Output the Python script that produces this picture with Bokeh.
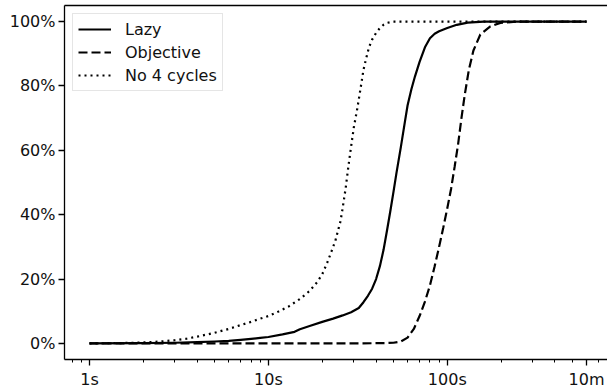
from bokeh.plotting import figure
from bokeh.models import Range1d, FixedTicker, LogAxis, NumeralTickFormatter
from bokeh.embed import file_html
from bokeh.resources import INLINE

# ---- data (seconds, cumulative fraction) ----
lazy_t = [1, 2, 3, 4, 5, 6, 7, 8, 9, 10, 12, 14, 15, 17, 20, 23, 26, 29, 32, 34, 36, 38, 40, 42,
          44, 46, 48, 50, 52, 55, 58, 60, 63, 66, 70, 75, 80, 85, 90, 100, 113, 130, 160, 600]
lazy_p = [0, 0.001, 0.002, 0.004, 0.006, 0.008, 0.011, 0.014, 0.017, 0.02, 0.028, 0.036, 0.044,
          0.054, 0.067, 0.077, 0.087, 0.097, 0.11, 0.128, 0.148, 0.17, 0.2, 0.24, 0.29, 0.35,
          0.41, 0.47, 0.53, 0.61, 0.69, 0.74, 0.79, 0.83, 0.875, 0.92, 0.948, 0.962, 0.97, 0.98,
          0.99, 0.997, 1.0, 1.0]

obj_t = [1, 10, 30, 45, 50, 55, 60, 65, 70, 75, 80, 85, 90, 95, 100, 105, 110, 115, 120, 125,
         132, 140, 153, 174, 198, 250, 600]
obj_p = [0, 0, 0.0, 0.001, 0.002, 0.006, 0.018, 0.045, 0.085, 0.13, 0.18, 0.24, 0.30, 0.36,
         0.42, 0.48, 0.55, 0.62, 0.70, 0.77, 0.85, 0.91, 0.96, 0.985, 0.996, 1.0, 1.0]

no4_t = [1, 1.5, 2, 2.5, 3, 3.5, 4, 5, 6, 7, 8, 9, 10, 11.2, 13, 15, 17, 18.7, 20, 21.3, 22.5,
         23.7, 25.3, 26, 27, 28, 28.8, 30, 31.4, 32.7, 34, 35, 36.5, 38, 40, 42, 44, 46, 50, 600]
no4_p = [0, 0.001, 0.003, 0.006, 0.01, 0.015, 0.021, 0.033, 0.045, 0.057, 0.067, 0.077, 0.085,
         0.097, 0.115, 0.138, 0.163, 0.19, 0.215, 0.25, 0.285, 0.32, 0.38, 0.42, 0.48, 0.55,
         0.60, 0.67, 0.73, 0.79, 0.85, 0.88, 0.92, 0.944, 0.965, 0.98, 0.99, 0.996, 1.0, 1.0]

series_names = ["Lazy", "Objective", "No 4 cycles"]

x_ticks = [1, 10, 100, 600]
x_tick_labels = ["1s", "10s", "100s", "10m"]
x_minor_ticks = [0.8, 0.9, 2, 3, 4, 5, 6, 7, 8, 9, 20, 30, 40, 50, 60, 70, 80, 90,
                 200, 300, 400, 500, 700]
y_ticks = [0, 0.2, 0.4, 0.6, 0.8, 1.0]
y_tick_labels = ["0%", "20%", "40%", "60%", "80%", "100%"]

FONT = "DejaVu Sans"

p = figure(width=607, height=391, x_axis_type="log",
           x_range=Range1d(0.7248, 786.3), y_range=Range1d(-0.05, 1.05),
           output_backend="svg", toolbar_location=None,
           min_border_left=64, min_border_right=0, min_border_top=5, min_border_bottom=30)
p.outline_line_color = None
p.xgrid.visible = False
p.ygrid.visible = False
p.background_fill_color = "white"
p.border_fill_color = "white"

lw = 2.2
p.line(lazy_t, lazy_p, line_color="black", line_width=lw, line_join="round",
       legend_label=series_names[0])
p.line(obj_t, obj_p, line_color="black", line_width=lw, line_dash="9 4",
       legend_label=series_names[1])
p.line(no4_t, no4_p, line_color="black", line_width=lw, line_dash="2 4",
       legend_label=series_names[2])

# axes styling
for ax in (p.xaxis[0], p.yaxis[0]):
    ax.axis_line_color = "black"
    ax.axis_line_width = 1.3
    ax.major_tick_line_color = "black"
    ax.major_tick_line_width = 1.3
    ax.minor_tick_line_color = "black"
    ax.minor_tick_line_width = 1.0
    ax.major_tick_in = 0
    ax.major_tick_out = 6
    ax.minor_tick_in = 0
    ax.minor_tick_out = 3
    ax.major_label_text_font = FONT
    ax.major_label_text_font_size = "16px"
    ax.major_label_text_color = "#111111"

xa = p.xaxis[0]
xa.ticker = FixedTicker(ticks=x_ticks, minor_ticks=x_minor_ticks)
xa.major_label_overrides = dict(zip(x_ticks, x_tick_labels))
xa.major_label_standoff = 4

ya = p.yaxis[0]
ya.ticker = FixedTicker(ticks=y_ticks, minor_ticks=[])
ya.formatter = NumeralTickFormatter(format="0%")
ya.major_label_overrides = dict(zip(y_ticks, y_tick_labels))
ya.major_label_standoff = 3

# top spine
top = LogAxis(ticker=FixedTicker(ticks=[], minor_ticks=[]),
              major_tick_out=0, major_tick_in=0, minor_tick_out=0, minor_tick_in=0,
              major_label_text_font_size="0px", axis_line_color="black", axis_line_width=1.3)
p.add_layout(top, "above")

lg = p.legend[0]
lg.location = "top_left"
lg.margin = 8
lg.padding = 5
lg.spacing = 3
lg.glyph_width = 33
lg.glyph_height = 20
lg.label_height = 20
lg.label_standoff = 14
lg.label_text_font = FONT
lg.label_text_font_size = "16px"
lg.label_text_color = "#111111"
lg.border_line_color = "#cccccc"
lg.border_line_width = 1
lg.background_fill_alpha = 0.8

open("out.html", "w").write(file_html(p, INLINE))
